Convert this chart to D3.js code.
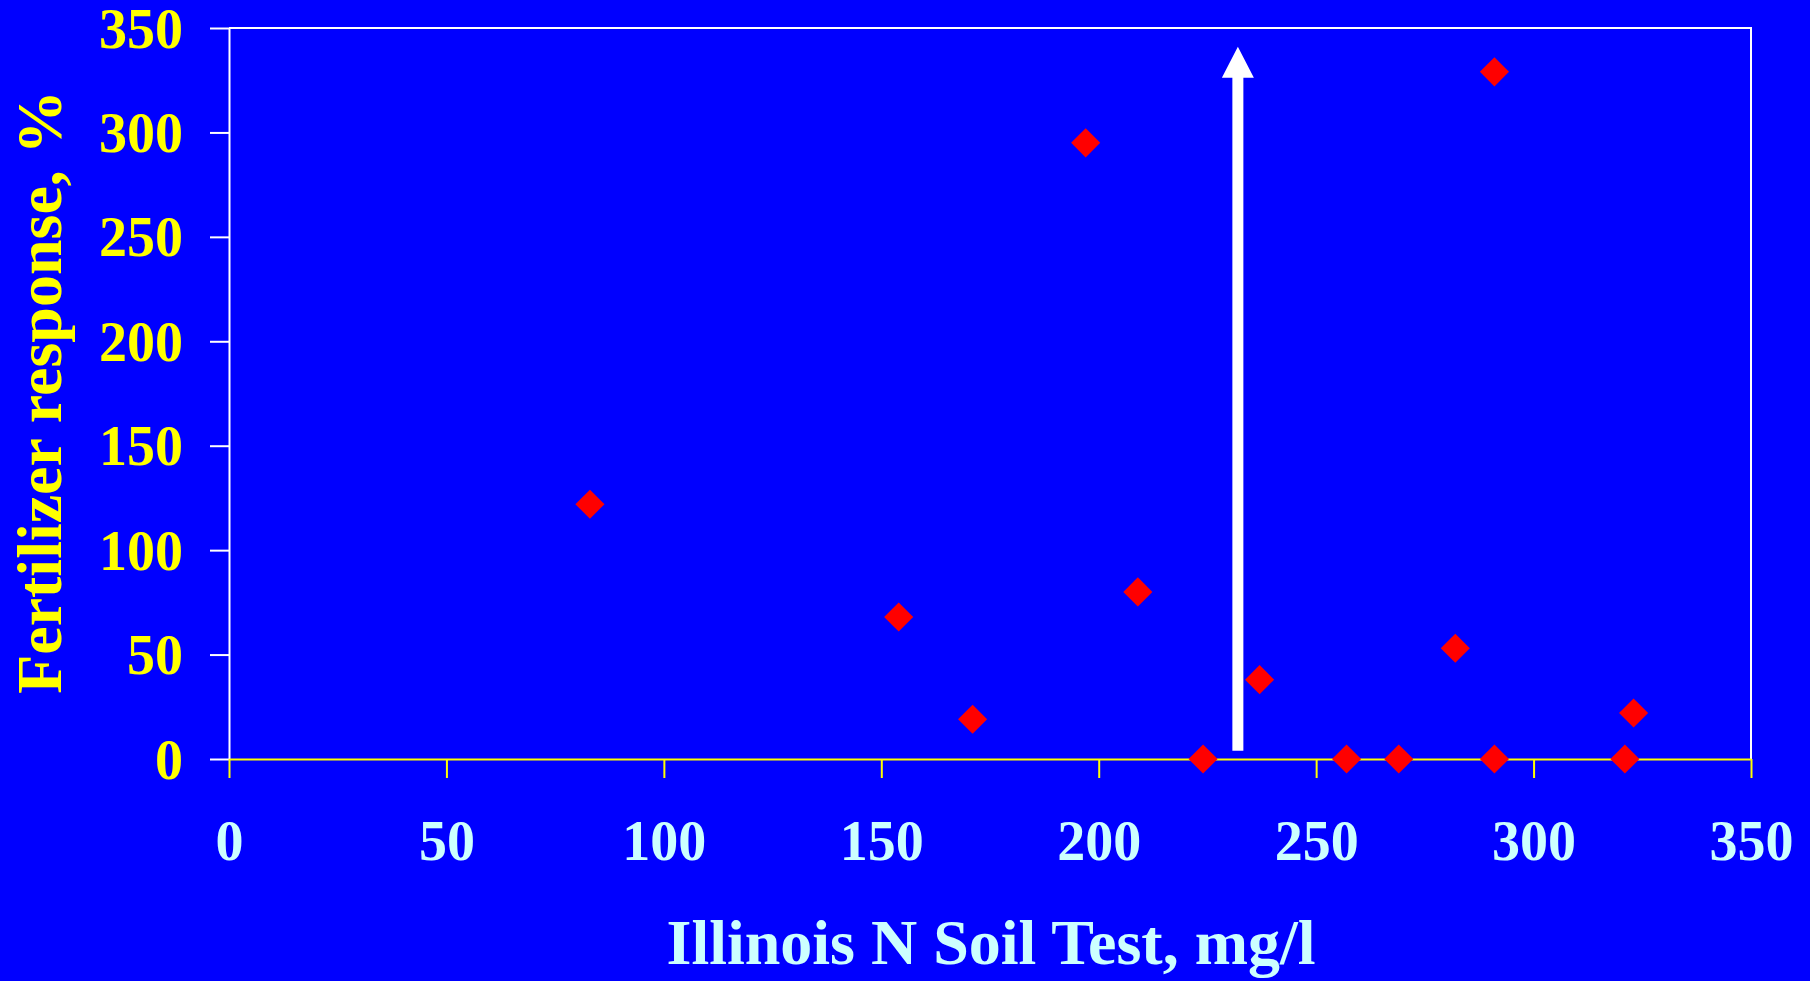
<!DOCTYPE html>
<html>
<head>
<meta charset="utf-8">
<script src="https://cdn.jsdelivr.net/npm/d3@7"></script>
<style>
  html, body { margin: 0; padding: 0; background: #0000ff; }
  svg { display: block; }
</style>
</head>
<body>
<figure id="scatter" style="margin:0"></figure>
<script>
// soil test values (mg/l) and fertilizer response (%)
const soilN    = [83, 154, 171, 197, 209, 224, 237, 257, 269, 282, 291, 291, 321, 323];
const response = [122, 68, 19, 295, 80, 0, 38, 0, 0, 53, 329, 0, 0, 22];
const xTicks = [0, 50, 100, 150, 200, 250, 300, 350];
const yTicks = [0, 50, 100, 150, 200, 250, 300, 350];
// arrow: x position and vertical extent in data units
const arrowAt = [232, 4, 341];

const width = 1810, height = 981;
const margin = { top: 28, right: 59, bottom: 222, left: 229 };

const svg = d3.select("figure#scatter")
  .append("svg")
  .attr("width", width)
  .attr("height", height);

svg.append("rect").attr("width", width).attr("height", height).attr("fill", "#0000ff");

const x = d3.scaleLinear().domain([0, 350]).range([margin.left, width - margin.right]);
const y = d3.scaleLinear().domain([0, 350]).range([height - margin.bottom, margin.top]);

// frame: top and right edges
svg.append("path")
  .attr("d", `M${x(0)},${y(350)}H${x(350)}V${y(0)}`)
  .attr("fill", "none")
  .attr("stroke", "#ffffff")
  .attr("stroke-width", 2);

// Y axis
const yAxis = svg.append("g")
  .attr("transform", `translate(${x(0)},0)`)
  .call(d3.axisLeft(y).tickValues(yTicks).tickSize(19).tickSizeOuter(0).tickPadding(27));
yAxis.selectAll("path, line").attr("stroke", "#ffffff").attr("stroke-width", 2);
yAxis.selectAll("text")
  .attr("fill", "#ffff00")
  .attr("dy", "0.34em")
  .style("font-family", "'Liberation Serif', 'Times New Roman', serif")
  .style("font-weight", "bold")
  .style("font-size", "56px");

// X axis
const xAxis = svg.append("g")
  .attr("transform", `translate(0,${y(0)})`)
  .call(d3.axisBottom(x).tickValues(xTicks).tickSize(19).tickSizeOuter(0));
xAxis.selectAll("path, line").attr("stroke", "#ffff00").attr("stroke-width", 2);
xAxis.selectAll("text")
  .attr("fill", "#ccffff")
  .attr("y", 101)
  .attr("dy", 0)
  .style("font-family", "'Liberation Serif', 'Times New Roman', serif")
  .style("font-weight", "bold")
  .style("font-size", "56px");

// arrow
const ax = x(arrowAt[0]), ay0 = y(arrowAt[1]), ay1 = y(arrowAt[2]);
svg.append("path")
  .attr("d", `M${ax - 5.5},${ay0}V${ay1 + 31}H${ax - 16}L${ax},${ay1}L${ax + 16},${ay1 + 31}H${ax + 5.5}V${ay0}Z`)
  .attr("fill", "#ffffff");

// points
const pts = soilN.map((v, i) => ({ n: v, r: response[i] }));
svg.selectAll("path.pt")
  .data(pts)
  .enter()
  .append("path")
  .attr("class", "pt")
  .attr("d", d3.symbol().type(d3.symbolDiamond2).size(540))
  .attr("transform", d => `translate(${x(d.n)},${y(d.r)})`)
  .attr("fill", "#ff0000");

// axis titles
svg.append("text")
  .attr("x", (x(0) + x(350)) / 2 + 1)
  .attr("y", 964)
  .attr("text-anchor", "middle")
  .attr("fill", "#ccffff")
  .style("font-family", "'Liberation Serif', 'Times New Roman', serif")
  .style("font-weight", "bold")
  .style("font-size", "64px")
  .text("Illinois N Soil Test, mg/l");

svg.append("text")
  .attr("transform", "translate(61,392) rotate(-90)")
  .attr("text-anchor", "middle")
  .attr("fill", "#ffff00")
  .style("font-family", "'Liberation Serif', 'Times New Roman', serif")
  .style("font-weight", "bold")
  .style("font-size", "64px")
  .text("Fertilizer response, %");
</script>
</body>
</html>
